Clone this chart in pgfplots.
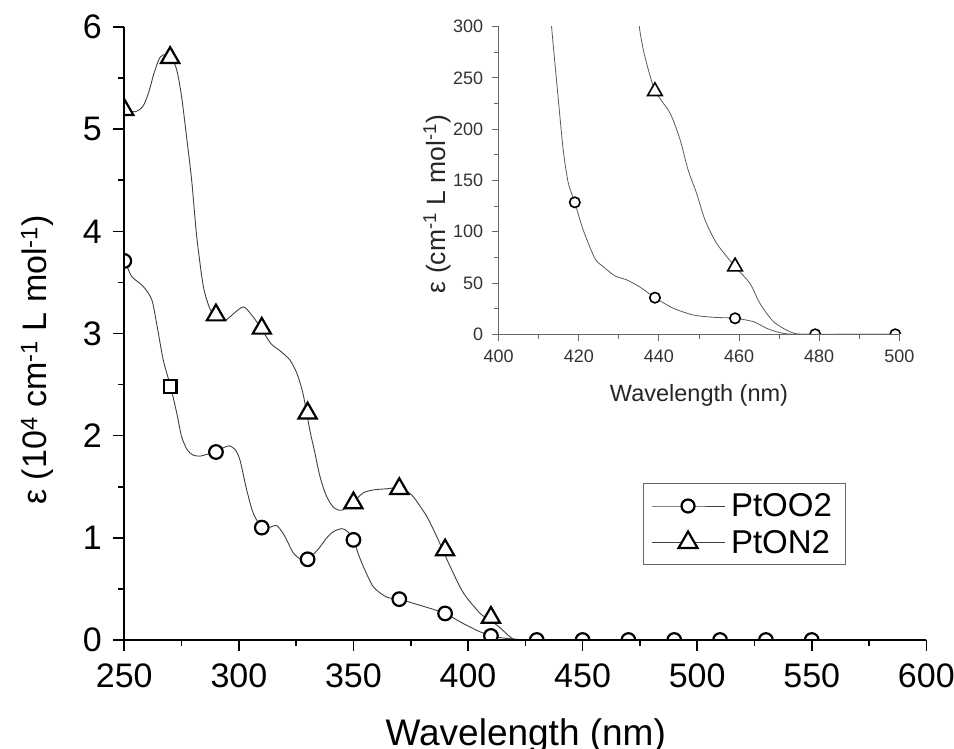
\documentclass[border=0pt]{standalone}
\usepackage{fontspec}
\setmainfont{Liberation Sans}
\usepackage{pgfplots}
\pgfplotsset{compat=1.18}
\pgfplotsset{
  mainframe/.style={at={(124.3pt,108pt)}, anchor=south west, scale only axis,
    width=802pt, height=613pt, xmin=250, xmax=600, ymin=0, ymax=6},
  insetframe/.style={at={(498.7pt,413.7pt)}, anchor=south west, scale only axis,
    width=400.6pt, height=307.6pt, xmin=400, xmax=500, ymin=0, ymax=300},
}
\begin{document}
\begin{tikzpicture}
\useasboundingbox (0pt,0pt) rectangle (954pt,748pt);
% ---------- main data ----------
\begin{axis}[mainframe, hide axis]
% PtON2 line
\addplot[smooth, tension=0.45, black!75, line width=0.9pt] coordinates {
(248,5.25) (250,5.20) (254.5,5.17) (258,5.22) (260.5,5.35) (263,5.55) (265.5,5.70) (268,5.73) (271,5.68) (273,5.57) (275,5.32) (277.2,4.92) (279.4,4.50) (281.6,3.95) (284.5,3.46) (287.4,3.24) (290,3.17) (294,3.13) (298,3.20) (302,3.26) (306,3.17) (310,3.04) (314,2.90) (318,2.83) (322.3,2.74) (325.5,2.60) (328.1,2.40) (331,2.05) (333,1.85) (335.4,1.60) (338,1.42) (341.2,1.30) (344.9,1.27) (349.3,1.34) (354.3,1.44) (359,1.47) (364.5,1.48) (369.2,1.49) (373,1.46) (376.2,1.40) (382,1.21) (386.4,1.01) (389,0.88) (392.2,0.72) (398,0.46) (405.3,0.26) (409.3,0.20) (414,0.12) (418.4,0.03) (422,0) (440,0) (600,0)};
% PtOO2 line
\addplot[smooth, tension=0.45, black!75, line width=0.9pt] coordinates {
(248,3.78) (250,3.72) (253.2,3.56) (258.3,3.46) (262,3.33) (264.1,3.10) (267,2.74) (270.2,2.48) (272.9,2.22) (275,1.99) (277.5,1.86) (280,1.81) (283,1.80) (286.5,1.82) (290,1.84) (293,1.88) (296,1.90) (298.5,1.86) (300.5,1.76) (303.4,1.47) (306.3,1.24) (310,1.10) (313,1.10) (316.5,1.12) (319.4,1.04) (321.5,0.95) (323.8,0.85) (327,0.79) (330,0.79) (333,0.85) (335.4,0.91) (338,0.99) (341.2,1.06) (345,1.09) (347.5,1.06) (350,0.98) (352,0.85) (354.3,0.72) (358.7,0.52) (364.5,0.42) (370,0.40) (376,0.36) (383.4,0.31) (390,0.26) (398,0.16) (405.3,0.08) (410,0.045) (415,0.02) (420,0.01) (425,0) (440,0) (600,0)};
% PtOO2 markers
\addplot[only marks, mark=*, mark size=6.8pt, mark options={draw=black, fill=white, line width=2.2pt}] coordinates {
(250,3.71) (290,1.84) (310,1.10) (330,0.79) (350,0.98) (370,0.40) (390,0.26) (410,0.04) (430,0) (450,0) (470,0) (490,0) (510,0) (530,0) (550,0)};
\addplot[only marks, mark=square*, mark size=6.4pt, mark options={draw=black, fill=white, line width=2.2pt}] coordinates {(270,2.48)};
% PtON2 markers
\addplot[only marks, mark=triangle*, mark size=10.5pt, mark options={draw=black, fill=white, line width=2.2pt}] coordinates {
(250,5.19) (270,5.70) (290,3.18) (310,3.05) (330,2.22) (350,1.34) (370,1.48) (390,0.88) (410,0.22) (430,-0.075)};
\end{axis}
% mask outside the main plot area
\fill[white] (0pt,0pt) rectangle (954pt,108pt);
\fill[white] (0pt,0pt) rectangle (124.3pt,748pt);
% ---------- main frame, ticks, labels, legend ----------
\begin{axis}[mainframe,
  axis lines*=left,
  axis line style={line width=1.8pt, black},
  xtick={250,300,...,600}, minor xtick={275,325,...,575},
  ytick={0,1,...,6}, minor ytick={0.5,1.5,...,5.5},
  tick align=outside, major tick length=11pt, minor tick length=6pt,
  every tick/.style={black, line width=1.6pt},
  tick label style={font=\fontsize{34}{40}\selectfont},
  xticklabel style={yshift=-9pt},
  yticklabel style={xshift=-8pt},
  /pgf/number format/assume math mode=true,
  /pgf/number format/set thousands separator={},
  xlabel={Wavelength (nm)},
  xlabel style={font=\fontsize{37}{44}\selectfont, at={(axis description cs:0.5006,-0.172)}, anchor=base},
  ylabel={ε (10\textsuperscript{4} cm\textsuperscript{-1} L mol\textsuperscript{-1})},
  ylabel style={font=\fontsize{34}{40}\selectfont, at={(axis description cs:-0.1085,0.457)}, anchor=center, rotate=0},
  legend style={at={(axis description cs:0.6464,0.2556)}, anchor=north west,
    draw=black!60, line width=0.8pt, fill=white,
    font=\fontsize{33}{38}\selectfont, inner xsep=8pt, inner ysep=7pt, row sep=6pt,
    nodes={inner xsep=6pt, inner ysep=3pt},
    cells={anchor=west}},
  legend image code/.code={\draw[mark repeat=2,mark phase=2] plot coordinates {(0pt,0pt) (36.5pt,0pt) (73pt,0pt)};},
]
\addlegendimage{black!75, line width=0.9pt, mark=*, mark size=6.5pt, mark options={draw=black, fill=white, line width=2.2pt}}
\addlegendentry{PtOO2}
\addlegendimage{black!75, line width=0.9pt, mark=triangle*, mark size=11pt, mark options={draw=black, fill=white, line width=2.2pt}}
\addlegendentry{PtON2}
\end{axis}
% ---------- inset data ----------
\begin{axis}[insetframe, hide axis]
\addplot[smooth, tension=0.45, black!65, line width=0.8pt] coordinates {
(412,360) (413.2,300) (414.5,245) (416.1,180) (417.4,147) (419,128.7) (421.1,101.7) (424,74) (426.1,66) (429,57) (432,53) (435.3,46) (439,35.7) (443.6,25.4) (448.6,18.8) (453.6,16.6) (459,15.6) (463.6,12.3) (466.9,5.8) (470.2,1.6) (474,0) (490,0) (500,0)};
\addplot[smooth, tension=0.45, black!65, line width=0.8pt] coordinates {
(434.3,340) (435.1,300) (436.5,270.7) (439,238) (442.8,215.5) (445.3,189.5) (447.3,160) (449.4,137.5) (451.5,111.5) (454.4,88.7) (459,66) (462.7,49.7) (465.2,30.2) (468.6,12.3) (472.7,2.5) (476,0) (490,0) (500,0)};
\addplot[only marks, mark=*, mark size=5.2pt, mark options={draw=black, fill=white, line width=1.6pt}] coordinates {
(419,128.7) (439,35.7) (459,15.6) (479,0) (499,0)};
\addplot[only marks, mark=triangle*, mark size=8.5pt, mark options={draw=black, fill=white, line width=1.6pt}] coordinates {
(439,237) (459,66) (479,-4) (499,-5)};
\end{axis}
\fill[white] (490pt,385pt) rectangle (910pt,413.7pt);
% ---------- inset frame ----------
\begin{axis}[insetframe,
  axis lines*=left,
  axis line style={line width=1pt, black!60},
  xtick={400,420,...,500}, minor xtick={410,430,...,490},
  ytick={0,50,...,300}, minor ytick={25,75,...,275},
  tick align=outside, major tick length=7pt, minor tick length=4.5pt,
  every tick/.style={black!60, line width=1pt},
  tick label style={font=\fontsize{18}{21}\selectfont, text=black!80},
  xticklabel style={yshift=-5pt},
  yticklabel style={xshift=-5pt},
  /pgf/number format/assume math mode=true,
  xlabel={Wavelength (nm)},
  xlabel style={font=\fontsize{23.5}{28}\selectfont, text=black!85, at={(axis description cs:0.5,-0.219)}, anchor=base},
  ylabel={ε (cm\textsuperscript{-1} L mol\textsuperscript{-1})},
  ylabel style={font=\fontsize{26.5}{30}\selectfont, text=black!85, at={(axis description cs:-0.154,0.424)}, anchor=center, rotate=0},
]
\end{axis}
\end{tikzpicture}
\end{document}
